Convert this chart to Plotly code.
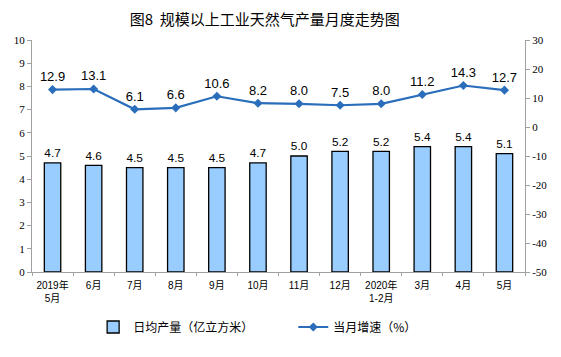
import plotly.graph_objects as go

categories = ["2019年<br>5月", "6月", "7月", "8月", "9月", "10月", "11月", "12月",
              "2020年<br>1-2月", "3月", "4月", "5月"]
daily_output = [4.7, 4.6, 4.5, 4.5, 4.5, 4.7, 5.0, 5.2, 5.2, 5.4, 5.4, 5.1]
monthly_growth = [12.9, 13.1, 6.1, 6.6, 10.6, 8.2, 8.0, 7.5, 8.0, 11.2, 14.3, 12.7]
left_ticks = list(range(0, 11))
right_ticks = list(range(-50, 31, 10))

fig = go.Figure()
fig.add_trace(go.Bar(
    x=categories, y=daily_output, name="日均产量（亿立方米）",
    marker=dict(color="#99ccff", line=dict(color="#000000", width=1.3)),
    width=0.4,
    text=[f"{v:.1f}" for v in daily_output], textposition="outside",
    textfont=dict(family="Liberation Sans, Arial", size=13, color="#000"),
    cliponaxis=False, legend="legend",
))
fig.add_trace(go.Scatter(
    x=categories, y=monthly_growth, name="当月增速（%）", yaxis="y2",
    mode="lines+markers+text",
    line=dict(color="#2a6ebb", width=2.2),
    marker=dict(symbol="diamond", size=7, color="#2a6ebb"),
    text=[f"{v:.1f}" for v in monthly_growth], textposition="top center",
    textfont=dict(family="Liberation Sans, Arial", size=13, color="#000"),
    cliponaxis=False, legend="legend2",
))

legend_font = dict(family="Noto Sans CJK SC", size=12, color="#000")
fig.update_layout(
    width=561, height=357,
    margin=dict(l=32, r=36, t=40, b=85),
    paper_bgcolor="white", plot_bgcolor="white",
    title=dict(text="图8  规模以上工业天然气产量月度走势图", x=0.472, xanchor="center",
               y=0.944, yanchor="middle",
               font=dict(family="Noto Sans CJK SC", size=15, color="#000")),
    xaxis=dict(type="category", showline=True, linecolor="#a0a0a0", linewidth=1,
               ticks="outside", tickson="boundaries", ticklen=3, tickcolor="#a0a0a0",
               tickangle=0, ticklabelstandoff=4,
               tickfont=dict(family="Liberation Sans, Noto Sans CJK SC", size=10, color="#000"),
               range=[-0.5, 11.5]),
    yaxis=dict(range=[0, 10], tickvals=left_ticks, showgrid=False, zeroline=False,
               showline=True, linecolor="#a0a0a0", ticks="outside", ticklen=4,
               tickcolor="#a0a0a0",
               tickfont=dict(family="Liberation Serif, Times New Roman", size=11, color="#000")),
    yaxis2=dict(range=[-50, 30], tickvals=right_ticks,
                ticktext=[str(v) for v in right_ticks],
                overlaying="y", side="right",
                showgrid=False, zeroline=False, showline=True, linecolor="#a0a0a0",
                ticks="outside", ticklen=4, tickcolor="#a0a0a0",
                tickfont=dict(family="Liberation Serif, Times New Roman", size=11, color="#000")),
    legend=dict(x=0.124, y=-0.237, xanchor="left", yanchor="middle", font=legend_font,
                bgcolor="rgba(0,0,0,0)"),
    legend2=dict(x=0.53, y=-0.237, xanchor="left", yanchor="middle", font=legend_font,
                 bgcolor="rgba(0,0,0,0)"),
    showlegend=True,
    bargap=0.6,
)

fig.write_html("out.html", post_script="document.body.style.margin='0';",
               config={"displayModeBar": False})
